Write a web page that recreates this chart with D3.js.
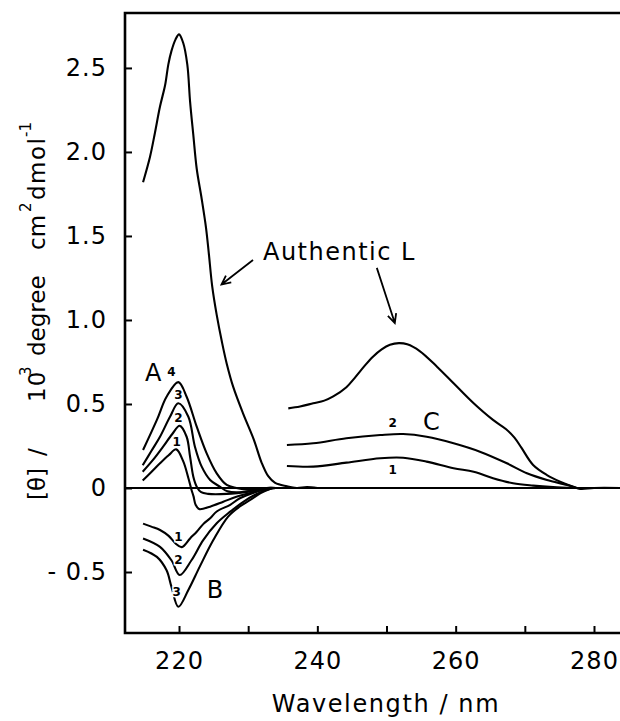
<!DOCTYPE html>
<html>
<head>
<meta charset="utf-8">
<script src="https://cdn.jsdelivr.net/npm/d3@7"></script>
<style>
  html, body { margin: 0; padding: 0; background: #fff; }
  svg { display: block; font-family: "DejaVu Sans", sans-serif; }
</style>
</head>
<body>
<div id="chart"></div>
<script>
// wavelength (nm), [theta] / 10^3
var authenticLeft = [[214.8,1.82],[215.8,1.97],[216.5,2.11],[217.25,2.27],[218.0,2.40],[218.45,2.52],[218.9,2.60],[219.5,2.67],[220.0,2.70],[220.6,2.65],[221.2,2.52],[221.6,2.30],[222.07,2.10],[222.56,1.90],[223.28,1.72],[223.9,1.55],[224.3,1.40],[224.8,1.20],[225.45,1.03],[226.2,0.87],[226.9,0.74],[227.85,0.60],[229.3,0.44],[230.8,0.29],[231.95,0.15],[232.9,0.07],[233.9,0.03],[235.6,0.01],[237.0,0.0],[238.5,0.005],[240.0,0.0]];
var authenticRight = [[235.8,0.474],[237.5,0.485],[239.4,0.504],[241.0,0.52],[242.3,0.545],[244.2,0.60],[245.5,0.66],[246.8,0.725],[248.0,0.78],[249.3,0.825],[250.5,0.852],[251.8,0.862],[253.0,0.855],[254.8,0.815],[257.3,0.722],[259.7,0.623],[262.6,0.504],[265.4,0.405],[267.3,0.35],[268.5,0.30],[269.5,0.24],[271.2,0.137],[273.2,0.077],[275.1,0.038],[277.0,0.008],[278.0,-0.005],[280.0,0.0],[283.8,0.0]];
var seriesA1 = [[214.75,0.044],[216.0,0.095],[217.25,0.147],[218.5,0.195],[219.6,0.23],[220.6,0.16],[221.35,0.06],[221.8,-0.01],[222.1,-0.05],[222.4,-0.10],[222.9,-0.125],[224.5,-0.111],[226.4,-0.082],[228.3,-0.052],[230.3,-0.03],[232.7,-0.005],[234.0,0.0]];
var seriesA2 = [[214.75,0.097],[216.3,0.17],[217.7,0.246],[219.0,0.32],[220.1,0.37],[221.1,0.305],[221.6,0.186],[222.07,0.067],[222.56,0.008],[223.2,-0.025],[224.2,-0.035],[226.9,-0.035],[230.3,-0.02],[232.7,-0.003],[234.0,0.0]];
var seriesA3 = [[214.75,0.135],[216.0,0.22],[217.25,0.305],[218.7,0.424],[219.9,0.504],[221.35,0.424],[222.3,0.246],[223.28,0.127],[224.5,0.048],[225.9,0.008],[227.0,-0.02],[228.8,-0.025],[230.8,-0.015],[232.7,0.0],[234.0,0.0]];
var seriesA4 = [[214.8,0.226],[216.8,0.405],[218.2,0.543],[219.9,0.63],[221.1,0.543],[222.56,0.365],[224.0,0.206],[225.45,0.087],[226.9,0.018],[228.3,0.0],[230.0,-0.01],[232.7,0.0],[234.0,0.0]];
var seriesB1 = [[214.8,-0.212],[216.0,-0.23],[217.25,-0.25],[218.5,-0.285],[219.5,-0.33],[220.4,-0.352],[221.6,-0.30],[222.56,-0.26],[223.5,-0.215],[224.5,-0.18],[225.45,-0.14],[227.4,-0.10],[228.8,-0.061],[231.0,-0.025],[233.2,0.0]];
var seriesB2 = [[214.8,-0.30],[217.25,-0.35],[218.9,-0.43],[220.1,-0.518],[221.8,-0.43],[223.5,-0.31],[225.45,-0.21],[227.4,-0.141],[229.3,-0.082],[231.0,-0.04],[233.2,-0.005],[234.0,0.0]];
var seriesB3 = [[214.8,-0.367],[216.8,-0.41],[218.2,-0.49],[218.9,-0.587],[219.9,-0.707],[221.35,-0.607],[223.0,-0.468],[224.96,-0.31],[227.1,-0.17],[228.8,-0.11],[230.3,-0.071],[231.8,-0.03],[233.5,0.0]];
var seriesC1 = [[235.6,0.131],[239.4,0.127],[244.2,0.151],[249.1,0.177],[252.4,0.18],[255.8,0.157],[259.7,0.117],[262.6,0.097],[265.4,0.058],[268.3,0.028],[271.2,0.014],[274.1,0.005],[277.0,0.0]];
var seriesC2 = [[235.6,0.256],[239.4,0.266],[244.2,0.296],[249.1,0.315],[252.4,0.321],[255.8,0.305],[259.7,0.266],[263.5,0.216],[267.4,0.147],[270.3,0.088],[273.2,0.048],[276.1,0.018],[277.5,0.0]];

var xTicks = [220, 230, 240, 250, 260, 270, 280];
var xLabels = [220, 240, 260, 280];
var yTicks = [-0.5, 0, 0.5, 1.0, 1.5, 2.0, 2.5];

// [text, wavelength, value, small]
var curveLabels = [
  ['A', 216.28, 0.685, false], ['4', 218.9, 0.692, true], ['3', 219.9, 0.554, true],
  ['2', 219.9, 0.415, true], ['1', 219.67, 0.276, true],
  ['1', 219.9, -0.293, true], ['2', 219.9, -0.429, true], ['3', 219.67, -0.617, true],
  ['B', 225.2, -0.607, false],
  ['2', 250.9, 0.389, true], ['C', 256.5, 0.395, false], ['1', 250.9, 0.108, true]
];
// arrows: [fromWl, fromVal, toWl, toVal]
var arrows = [[230.7, 1.357, 226.14, 1.211], [248.6, 1.31, 251.2, 0.982]];

var width = 620, height = 721;
var svg = d3.select('#chart').append('svg')
  .attr('width', width).attr('height', height);

var x = d3.scaleLinear().domain([212.19, 283.76]).range([125, 620]);
var y = d3.scaleLinear().domain([-0.863, 2.827]).range([633, 13]);

// axes (ticks pointing inward)
var xAxis = d3.axisBottom(x).tickValues(xTicks).tickSize(-7).tickPadding(19)
  .tickFormat(function (d) { return xLabels.indexOf(d) >= 0 ? d : ''; });
var gx = svg.append('g').attr('transform', 'translate(0,' + y.range()[0] + ')').call(xAxis);
gx.select('.domain').remove();
gx.selectAll('line').attr('stroke', '#000').attr('stroke-width', 2);
gx.selectAll('text').attr('font-size', 24).attr('fill', '#000')
  .attr('font-family', '"DejaVu Sans", sans-serif').attr('letter-spacing', 1);

var yAxis = d3.axisLeft(y).tickValues(yTicks).tickSize(-7).tickPadding(18)
  .tickFormat(function (d) { return d === 0 ? '0' : (d < 0 ? '- ' + (-d).toFixed(1) : d.toFixed(1)); });
var gy = svg.append('g').attr('transform', 'translate(' + x.range()[0] + ',0)').call(yAxis);
gy.select('.domain').remove();
gy.selectAll('line').attr('stroke', '#000').attr('stroke-width', 2);
gy.selectAll('text').attr('font-size', 24).attr('fill', '#000')
  .attr('font-family', '"DejaVu Sans", sans-serif').attr('letter-spacing', 1);

// frame: left, top, bottom (right side runs off the page)
svg.append('path')
  .attr('d', 'M' + x.range()[1] + ',' + y.range()[1] + 'H' + x.range()[0] + 'V' + y.range()[0] + 'H' + x.range()[1])
  .attr('fill', 'none').attr('stroke', '#000').attr('stroke-width', 2.6);

// zero line
svg.append('line')
  .attr('x1', x.range()[0]).attr('x2', x.range()[1])
  .attr('y1', y(0)).attr('y2', y(0))
  .attr('stroke', '#000').attr('stroke-width', 1.8);

var line = d3.line()
  .x(function (d) { return x(d[0]); })
  .y(function (d) { return y(d[1]); })
  .curve(d3.curveCatmullRom.alpha(0.5));

var allSeries = [authenticLeft, authenticRight, seriesA1, seriesA2, seriesA3, seriesA4,
  seriesB1, seriesB2, seriesB3, seriesC1, seriesC2];
svg.append('g').selectAll('path')
  .data(allSeries)
  .enter()
  .append('path')
  .attr('d', line)
  .attr('fill', 'none')
  .attr('stroke', '#000')
  .attr('stroke-width', 2.1)
  .attr('stroke-linejoin', 'round');

// curve labels
svg.append('g').selectAll('text')
  .data(curveLabels)
  .enter()
  .append('text')
  .attr('x', function (d) { return x(d[1]); })
  .attr('y', function (d) { return y(d[2]); })
  .attr('text-anchor', 'middle')
  .attr('dominant-baseline', 'central')
  .attr('font-size', function (d) { return d[3] ? 12 : 24; })
  .attr('font-weight', function (d) { return d[3] ? 'bold' : 'normal'; })
  .attr('stroke', function (d) { return d[3] ? '#fff' : 'none'; })
  .attr('stroke-width', 3)
  .attr('paint-order', 'stroke')
  .attr('fill', '#000')
  .text(function (d) { return d[0]; });

// Authentic L annotation
svg.append('text')
  .attr('x', x(232.14)).attr('y', y(1.357))
  .attr('font-size', 24).attr('letter-spacing', 1.5)
  .text('Authentic L');

arrows.forEach(function (a) {
  var x1 = x(a[0]), y1 = y(a[1]), x2 = x(a[2]), y2 = y(a[3]);
  var ang = Math.atan2(y2 - y1, x2 - x1), h = 10, s = 0.45;
  svg.append('path')
    .attr('d', 'M' + x1 + ',' + y1 + 'L' + x2 + ',' + y2 +
      'M' + (x2 - h * Math.cos(ang - s)) + ',' + (y2 - h * Math.sin(ang - s)) +
      'L' + x2 + ',' + y2 +
      'L' + (x2 - h * Math.cos(ang + s)) + ',' + (y2 - h * Math.sin(ang + s)))
    .attr('fill', 'none').attr('stroke', '#000').attr('stroke-width', 1.8);
});

// axis titles
svg.append('text')
  .attr('x', 386).attr('y', 712)
  .attr('text-anchor', 'middle')
  .attr('font-size', 24).attr('letter-spacing', 1.6)
  .text('Wavelength / nm');

var yt = svg.append('text')
  .attr('transform', 'translate(45,0) rotate(-90)')
  .attr('font-size', 23);
yt.append('tspan').attr('x', -500).attr('y', 0).text('[θ]');
yt.append('tspan').attr('x', -456).attr('y', 0).text('/');
yt.append('tspan').attr('x', -402).attr('y', 0).attr('letter-spacing', 1).text('10');
yt.append('tspan').attr('x', -376).attr('y', -14).attr('font-size', 15).text('3');
yt.append('tspan').attr('x', -356).attr('y', 0).text('degree');
yt.append('tspan').attr('x', -250).attr('y', 0).text('cm');
yt.append('tspan').attr('x', -212).attr('y', -14).attr('font-size', 15).text('2');
yt.append('tspan').attr('x', -200).attr('y', 0).attr('letter-spacing', 1.5).text('dmol');
yt.append('tspan').attr('x', -137).attr('y', -14).attr('font-size', 15).text('-1');
</script>
</body>
</html>
